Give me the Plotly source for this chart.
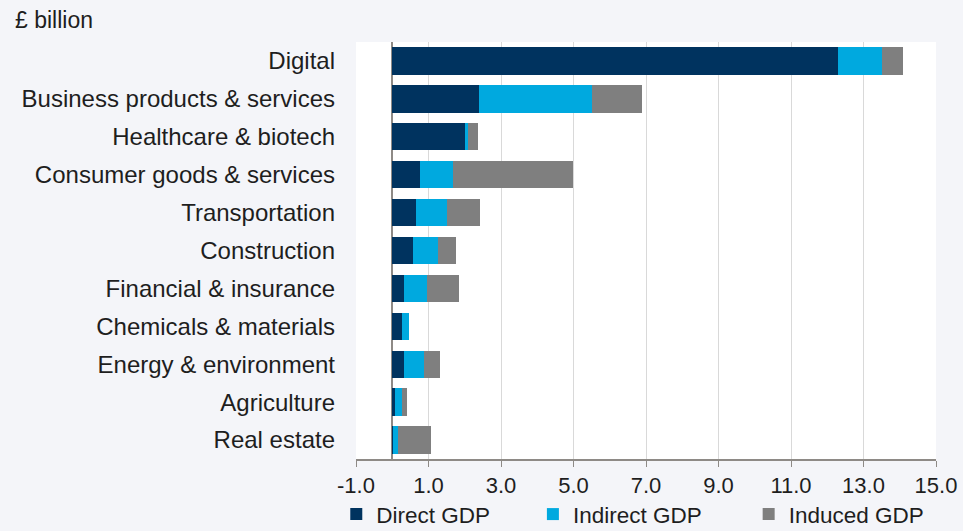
import plotly.graph_objects as go

categories = [
    "Digital",
    "Business products & services",
    "Healthcare & biotech",
    "Consumer goods & services",
    "Transportation",
    "Construction",
    "Financial & insurance",
    "Chemicals & materials",
    "Energy & environment",
    "Agriculture",
    "Real estate",
]
direct_gdp = [12.3, 2.4, 2.0, 0.77, 0.65, 0.58, 0.33, 0.26, 0.33, 0.08, 0.02]
indirect_gdp = [1.2, 3.1, 0.1, 0.91, 0.86, 0.69, 0.62, 0.21, 0.55, 0.18, 0.15]
induced_gdp = [0.6, 1.4, 0.27, 3.3, 0.9, 0.48, 0.9, 0.0, 0.45, 0.15, 0.91]
tick_values = [-1, 1, 3, 5, 7, 9, 11, 13, 15]

# name, values, colour, legend id, legend x (paper units)
series = [
    ("Direct GDP", direct_gdp, "#00335f", "legend", -0.034),
    ("Indirect GDP", indirect_gdp, "#00a9df", "legend2", 0.305),
    ("Induced GDP", induced_gdp, "#7f7f7f", "legend3", 0.677),
]

FONT = "Liberation Sans, Arial, sans-serif"
TEXT = "#1e1e1e"

fig = go.Figure()
for name, vals, color, leg, _ in series:
    fig.add_trace(go.Bar(
        y=categories, x=vals, name=name, orientation="h",
        marker=dict(color=color, line=dict(width=0)),
        legend=leg,
    ))

legend_style = dict(
    orientation="h", yref="paper", y=-0.133, yanchor="middle",
    xanchor="left", font=dict(size=22.5, color=TEXT),
    bgcolor="rgba(0,0,0,0)", borderwidth=0,
)

fig.update_layout(
    barmode="stack",
    bargap=0.28,
    width=963, height=531,
    margin=dict(l=356, r=27, t=42, b=72, autoexpand=False),
    paper_bgcolor="#f4f5f9",
    plot_bgcolor="#ffffff",
    font=dict(family=FONT, size=22, color=TEXT),
    showlegend=True,
    legend=dict(x=series[0][4], **legend_style),
    legend2=dict(x=series[1][4], **legend_style),
    legend3=dict(x=series[2][4], **legend_style),
    xaxis=dict(
        range=[-1, 15], tickvals=tick_values,
        ticktext=[f"{v:.1f}" for v in tick_values],
        tickfont=dict(size=22),
        showgrid=True, gridcolor="#d9d9d9", gridwidth=1,
        zeroline=True, zerolinecolor="#8e8a86", zerolinewidth=2,
        showline=True, linecolor="#8e8a86", linewidth=1.5,
        ticks="outside", ticklen=6, tickcolor="#8e8a86",
        ticklabelstandoff=0,
        fixedrange=True,
    ),
    yaxis=dict(
        autorange="reversed", showgrid=False, zeroline=False,
        ticks="", ticklabelstandoff=20, tickfont=dict(size=24),
        fixedrange=True,
    ),
    annotations=[dict(
        text="£ billion", xref="paper", yref="paper", x=-0.591, y=1.053,
        xanchor="left", yanchor="middle", showarrow=False,
        font=dict(size=23, color=TEXT),
    )],
)

fig.write_html("out.html")
